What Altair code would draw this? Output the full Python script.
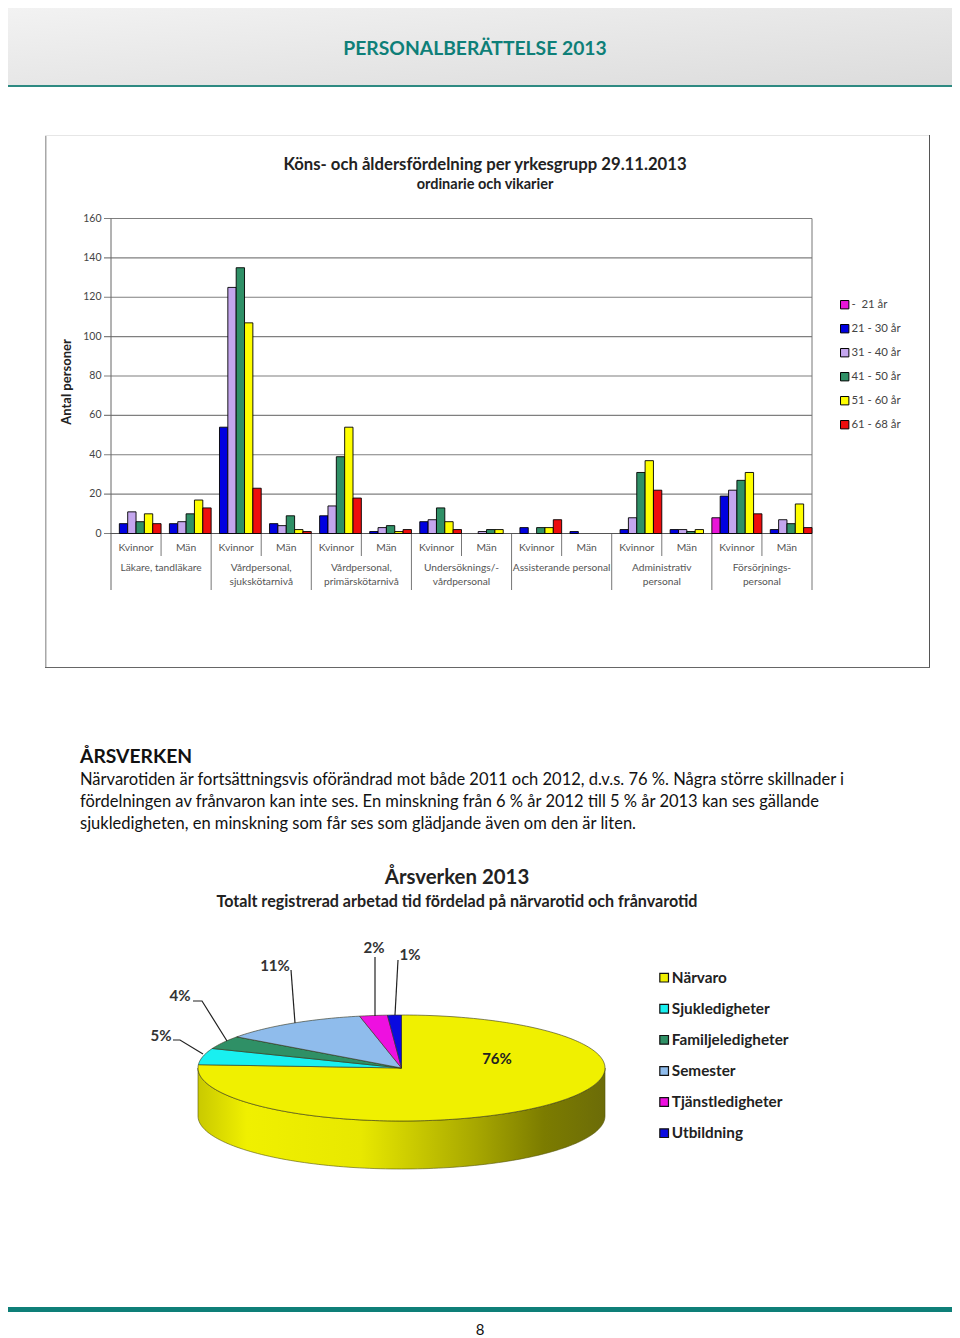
import math
import altair as alt

# ---------- data ----------
GROUPS = ["Läkare, tandläkare", "Vårdpersonal,\nsjukskötarnivå", "Vårdpersonal,\nprimärskötarnivå",
          "Undersöknings/-\nvårdpersonal", "Assisterande personal", "Administrativ\npersonal",
          "Försörjnings-\npersonal"]
SEXES = ["Kvinnor", "Män"]
AGES = ["\u00a0\u00a0\u00a0-\u00a0\u00a021 år", "21 - 30 år", "31 - 40 år", "41 - 50 år", "51 - 60 år", "61 - 68 år"]
AGE_COLORS = ["#e815d8", "#0000e0", "#c4a6ee", "#2f9066", "#ffff00", "#ee0d0d"]
COUNTS = [
    [0, 5, 11, 6, 10, 5], [0, 5, 6, 10, 17, 13],
    [0, 54, 125, 135, 107, 23], [0, 5, 4, 9, 2, 1],
    [0, 9, 14, 39, 54, 18], [0, 1, 3, 4, 1, 2],
    [0, 6, 7, 13, 6, 2], [0, 0, 1, 2, 2, 0],
    [0, 3, 0, 3, 3, 7], [0, 1, 0, 0, 0, 0],
    [0, 2, 8, 31, 37, 22], [0, 2, 2, 1, 2, 0],
    [8, 19, 22, 27, 31, 10], [0, 2, 7, 5, 15, 3],
]
Y_TICKS = [0, 20, 40, 60, 80, 100, 120, 140, 160]

PIE_NAMES = ["Närvaro", "Sjukledigheter", "Familjeledigheter", "Semester", "Tjänstledigheter", "Utbildning"]
PIE_SHARES = [76.0, 5.0, 4.0, 11.7, 2.2, 1.1]
PIE_LABELS = ["76%", "5%", "4%", "11%", "2%", "1%"]
PIE_COLORS = ["#f0f000", "#19f0f0", "#2f9066", "#8fbcec", "#ee10e0", "#0a0ae0"]

BODY = ["Närvarotiden är fortsättningsvis oförändrad mot både 2011 och 2012, d.v.s. 76 %. Några större skillnader i",
        "fördelningen av frånvaron kan inte ses. En minskning från 6 % år 2012 till 5 % år 2013 kan ses gällande",
        "sjukledigheten, en minskning som får ses som glädjande även om den är liten."]

# ---------- helpers (page coordinates minus the 8px margin) ----------
M = 8
W, H = 944, 1330
FONT = "Lato"
ONE = alt.Data(values=[{"a": 1}])


def box(x0, y0, x1, y1, fill):
    return alt.Chart(ONE).mark_rect(fill=fill).encode(
        x=alt.value(x0 - M), x2=alt.value(x1 - M), y=alt.value(y0 - M), y2=alt.value(y1 - M))


def label(text, x, y, size, align="center", weight="normal", color="#000000", font=FONT, angle=0):
    return alt.Chart(alt.Data(values=[{"t": text}])).mark_text(
        x=x - M, y=y - M + 1, fontSize=size, align=align, baseline="middle",
        fontWeight=weight, color=color, font=font, angle=angle).encode(text="t:N")


# ---------- bar chart ----------
keys = [f"{g}|{s}" for g in range(len(GROUPS)) for s in SEXES]
rows = [{"k": keys[i], "age": AGES[j], "n": v}
        for i, vals in enumerate(COUNTS) for j, v in enumerate(vals) if v > 0]
x_scale = alt.Scale(type="band", domain=keys, range=[111 - M, 812 - M], paddingInner=0, paddingOuter=0)
y_scale = alt.Scale(domain=[0, 160], range=[533.5 - M, 218.5 - M], nice=False)
tick_rows = [{"v": v, "s": str(v)} for v in Y_TICKS]

grid = alt.Chart(alt.Data(values=tick_rows)).mark_rule(
    color="#7f7f7f", strokeWidth=1.2).encode(
    y=alt.Y("v:Q", scale=y_scale, axis=None),
    x=alt.value(104 - M), x2=alt.value(812 - M))
y_labels = alt.Chart(alt.Data(values=tick_rows)).mark_text(
    align="right", baseline="middle", font=FONT, fontSize=10.5, color="#444444").encode(
    y=alt.Y("v:Q", scale=y_scale, axis=None), x=alt.value(101.5 - M), text="s:N")

bars = alt.Chart(alt.Data(values=rows)).mark_bar(stroke="#000000", strokeWidth=0.9).encode(
    x=alt.X("k:N", scale=x_scale, axis=None),
    xOffset=alt.XOffset("age:N", scale=alt.Scale(domain=AGES, paddingInner=0, paddingOuter=0)),
    y=alt.Y("n:Q", scale=y_scale, axis=None),
    color=alt.Color("age:N", scale=alt.Scale(domain=AGES, range=AGE_COLORS),
                    legend=alt.Legend(orient="none", legendX=839 - M, legendY=299 - M, title=None,
                                      symbolType="square", symbolSize=70, symbolStrokeColor="#000000",
                                      symbolStrokeWidth=1, labelFont=FONT, labelFontSize=11.4,
                                      labelColor="#444444", rowPadding=11, labelOffset=1)),
)

baseline = alt.Chart(alt.Data(values=[{"v": 0}])).mark_rule(color="#555555", strokeWidth=1.2).encode(
    y=alt.Y("v:Q", scale=y_scale, axis=None), x=alt.value(110 - M), x2=alt.value(812 - M))
first_tick = alt.Chart(alt.Data(values=[{"k": keys[0]}])).mark_rule(color="#666666", strokeWidth=1).encode(
    x=alt.X("k:N", scale=x_scale, bandPosition=0, axis=None),
    y=alt.value(218.5 - M), y2=alt.value(590 - M))
long_ticks = alt.Chart(alt.Data(values=[{"k": keys[i]} for i in range(2, 14, 2)])).mark_rule(
    color="#777777", strokeWidth=1).encode(
    x=alt.X("k:N", scale=x_scale, bandPosition=0, axis=None),
    y=alt.value(533.5 - M), y2=alt.value(590 - M))
end_tick = alt.Chart(alt.Data(values=[{"k": keys[-1]}])).mark_rule(color="#777777", strokeWidth=1).encode(
    x=alt.X("k:N", scale=x_scale, bandPosition=1, axis=None),
    y=alt.value(218.5 - M), y2=alt.value(590 - M))
short_ticks = alt.Chart(alt.Data(values=[{"k": keys[i]} for i in range(1, 14, 2)])).mark_rule(
    color="#777777", strokeWidth=1).encode(
    x=alt.X("k:N", scale=x_scale, bandPosition=0, axis=None),
    y=alt.value(533.5 - M), y2=alt.value(556 - M))
sex_labels = alt.Chart(alt.Data(values=[{"k": k, "s": k.split("|")[1]} for k in keys])).mark_text(
    baseline="middle", align="center", font=FONT, fontSize=10.3, color="#555555").encode(
    x=alt.X("k:N", scale=x_scale, axis=None), y=alt.value(548 - M), text="s:N")
group_labels = alt.Chart(alt.Data(values=[{"k": keys[2 * i + 1], "g": g} for i, g in enumerate(GROUPS)])).mark_text(
    baseline="top", align="center", font=FONT, fontSize=10.2, color="#555555", lineBreak="\n", lineHeight=13.5).encode(
    x=alt.X("k:N", scale=x_scale, bandPosition=0, axis=None),
    y=alt.value(563 - M), text="g:N")

bar_panel = alt.layer(grid, first_tick, long_ticks, short_ticks, end_tick, y_labels, sex_labels,
                      group_labels, baseline, bars)

# ---------- pie (flattened disc, built from the shares) ----------
CX, CY, RX, RY, DEPTH = 401.5, 1068, 203.5, 53, 48
total = sum(PIE_SHARES)


def rim(t):
    return [CX + RX * math.sin(t), CY - RY * math.cos(t)]


features = []
start = 0.0
for name, share in zip(PIE_NAMES, PIE_SHARES):
    end = start + share / total * 2 * math.pi
    n = max(2, int((end - start) / 0.02))
    ring = [[CX, CY]] + [rim(start + (end - start) * i / n) for i in range(n + 1)] + [[CX, CY]]
    features.append({"type": "Feature", "properties": {"name": name},
                     "geometry": {"type": "Polygon", "coordinates": [ring]}})
    start = end

steps = [math.pi / 2 + math.pi * i / 120 for i in range(121)]
upper = [rim(t) for t in steps]
lower = [[p[0], p[1] + DEPTH] for p in upper]
side_ring = upper + lower[::-1] + [upper[0]]
side_feature = {"type": "Feature", "properties": {"name": "side"},
                "geometry": {"type": "Polygon", "coordinates": [side_ring]}}

LEADERS = [
    [[291, 970], [295, 1023]],
    [[375, 957], [375, 1016]],
    [[398, 960], [395, 1015]],
    [[193, 1001], [202, 1001], [227, 1041]],
    [[173, 1040], [180, 1040], [203, 1054]],
]
leader_features = [{"type": "Feature", "properties": {},
                    "geometry": {"type": "LineString", "coordinates": c}} for c in LEADERS]

PROJ = dict(type="identity", scale=1, translate=[-M, -M])
side_grad = alt.Gradient(gradient="linear", x1=0, x2=1, y1=0, y2=0, stops=[
    alt.GradientStop(color="#c9c900", offset=0),
    alt.GradientStop(color="#f0f000", offset=0.12),
    alt.GradientStop(color="#e8e800", offset=0.4),
    alt.GradientStop(color="#a8a800", offset=0.68),
    alt.GradientStop(color="#7c7c00", offset=0.85),
    alt.GradientStop(color="#6c6c08", offset=1),
])
side = alt.Chart(alt.Data(values=[side_feature])).mark_geoshape(
    fill=side_grad, stroke="#55550a", strokeWidth=0.6).project(**PROJ)
slices = alt.Chart(alt.Data(values=features)).mark_geoshape(stroke="#33331a", strokeWidth=0.6).encode(
    color=alt.Color("properties.name:N", scale=alt.Scale(domain=PIE_NAMES, range=PIE_COLORS),
                    legend=alt.Legend(orient="none", legendX=656.5 - M, legendY=970 - M, title=None,
                                      symbolType="square", symbolSize=75, symbolStrokeColor="#111111",
                                      symbolStrokeWidth=1.2, labelFont=FONT, labelFontSize=15.3,
                                      labelFontWeight="bold", labelColor="#222222", rowPadding=15.1,
                                      labelOffset=0))).project(**PROJ)
leaders = alt.Chart(alt.Data(values=leader_features)).mark_geoshape(
    filled=False, stroke="#222222", strokeWidth=1.2).project(**PROJ)

# ---------- page furniture ----------
header_grad = alt.Gradient(gradient="linear", x1=0, x2=1, y1=0, y2=1, stops=[
    alt.GradientStop(color="#f2f2f2", offset=0), alt.GradientStop(color="#dcdcdc", offset=1)])
header = alt.Chart(ONE).mark_rect(fill=header_grad).encode(
    x=alt.value(0), x2=alt.value(W), y=alt.value(0), y2=alt.value(85 - M))

layers = [
    header,
    box(0, 85, 960, 87, "#2e8a82"),
    label("PERSONALBERÄTTELSE 2013", 475, 48, 19.3, weight="bold", color="#0e7f78"),
    box(45, 135, 46.5, 668, "#a8a8a8"),
    box(45, 135, 930, 136, "#e6e6e6"),
    box(929, 135, 930, 668, "#555555"),
    box(45, 667, 930, 668, "#666666"),
    label("Köns- och åldersfördelning per yrkesgrupp 29.11.2013", 485, 164, 16.7, weight="bold", color="#222222"),
    label("ordinarie och vikarier", 485, 184, 14.5, weight="bold", color="#222222"),
    label("Antal personer", 67, 381, 13, weight="bold", color="#222222", angle=270),
    bar_panel,
    label("ÅRSVERKEN", 80, 756, 19.3, align="left", weight="bold", color="#111111"),
    label(BODY[0], 80, 779, 16.5, align="left", color="#111111"),
    label(BODY[1], 80, 801, 16.5, align="left", color="#111111"),
    label(BODY[2], 80, 823, 16.5, align="left", color="#111111"),
    label("Årsverken 2013", 457, 877, 20.4, weight="bold", color="#222222"),
    label("Totalt registrerad arbetad tid fördelad på närvarotid och frånvarotid", 457, 901, 16.1, weight="bold", color="#222222"),
    side, slices, leaders,
    label(PIE_LABELS[0], 497, 1058, 15, weight="bold", color="#222222"),
    label(PIE_LABELS[1], 161, 1035, 15, weight="bold", color="#333333"),
    label(PIE_LABELS[2], 180, 995, 15, weight="bold", color="#333333"),
    label(PIE_LABELS[3], 275, 965, 15, weight="bold", color="#333333"),
    label(PIE_LABELS[4], 374, 947, 15, weight="bold", color="#333333"),
    label(PIE_LABELS[5], 410, 954, 15, weight="bold", color="#333333"),
    box(0, 1307, 954, 1312, "#0e7f78"),
    label("8", 480, 1329, 15, color="#111111"),
]

chart = alt.layer(*layers).resolve_scale(color="independent").properties(
    width=W, height=H, padding=0, autosize=alt.AutoSizeParams(type="none")
).configure_view(stroke=None)

chart.save("out.html", embed_options={"renderer": "svg", "actions": False})
